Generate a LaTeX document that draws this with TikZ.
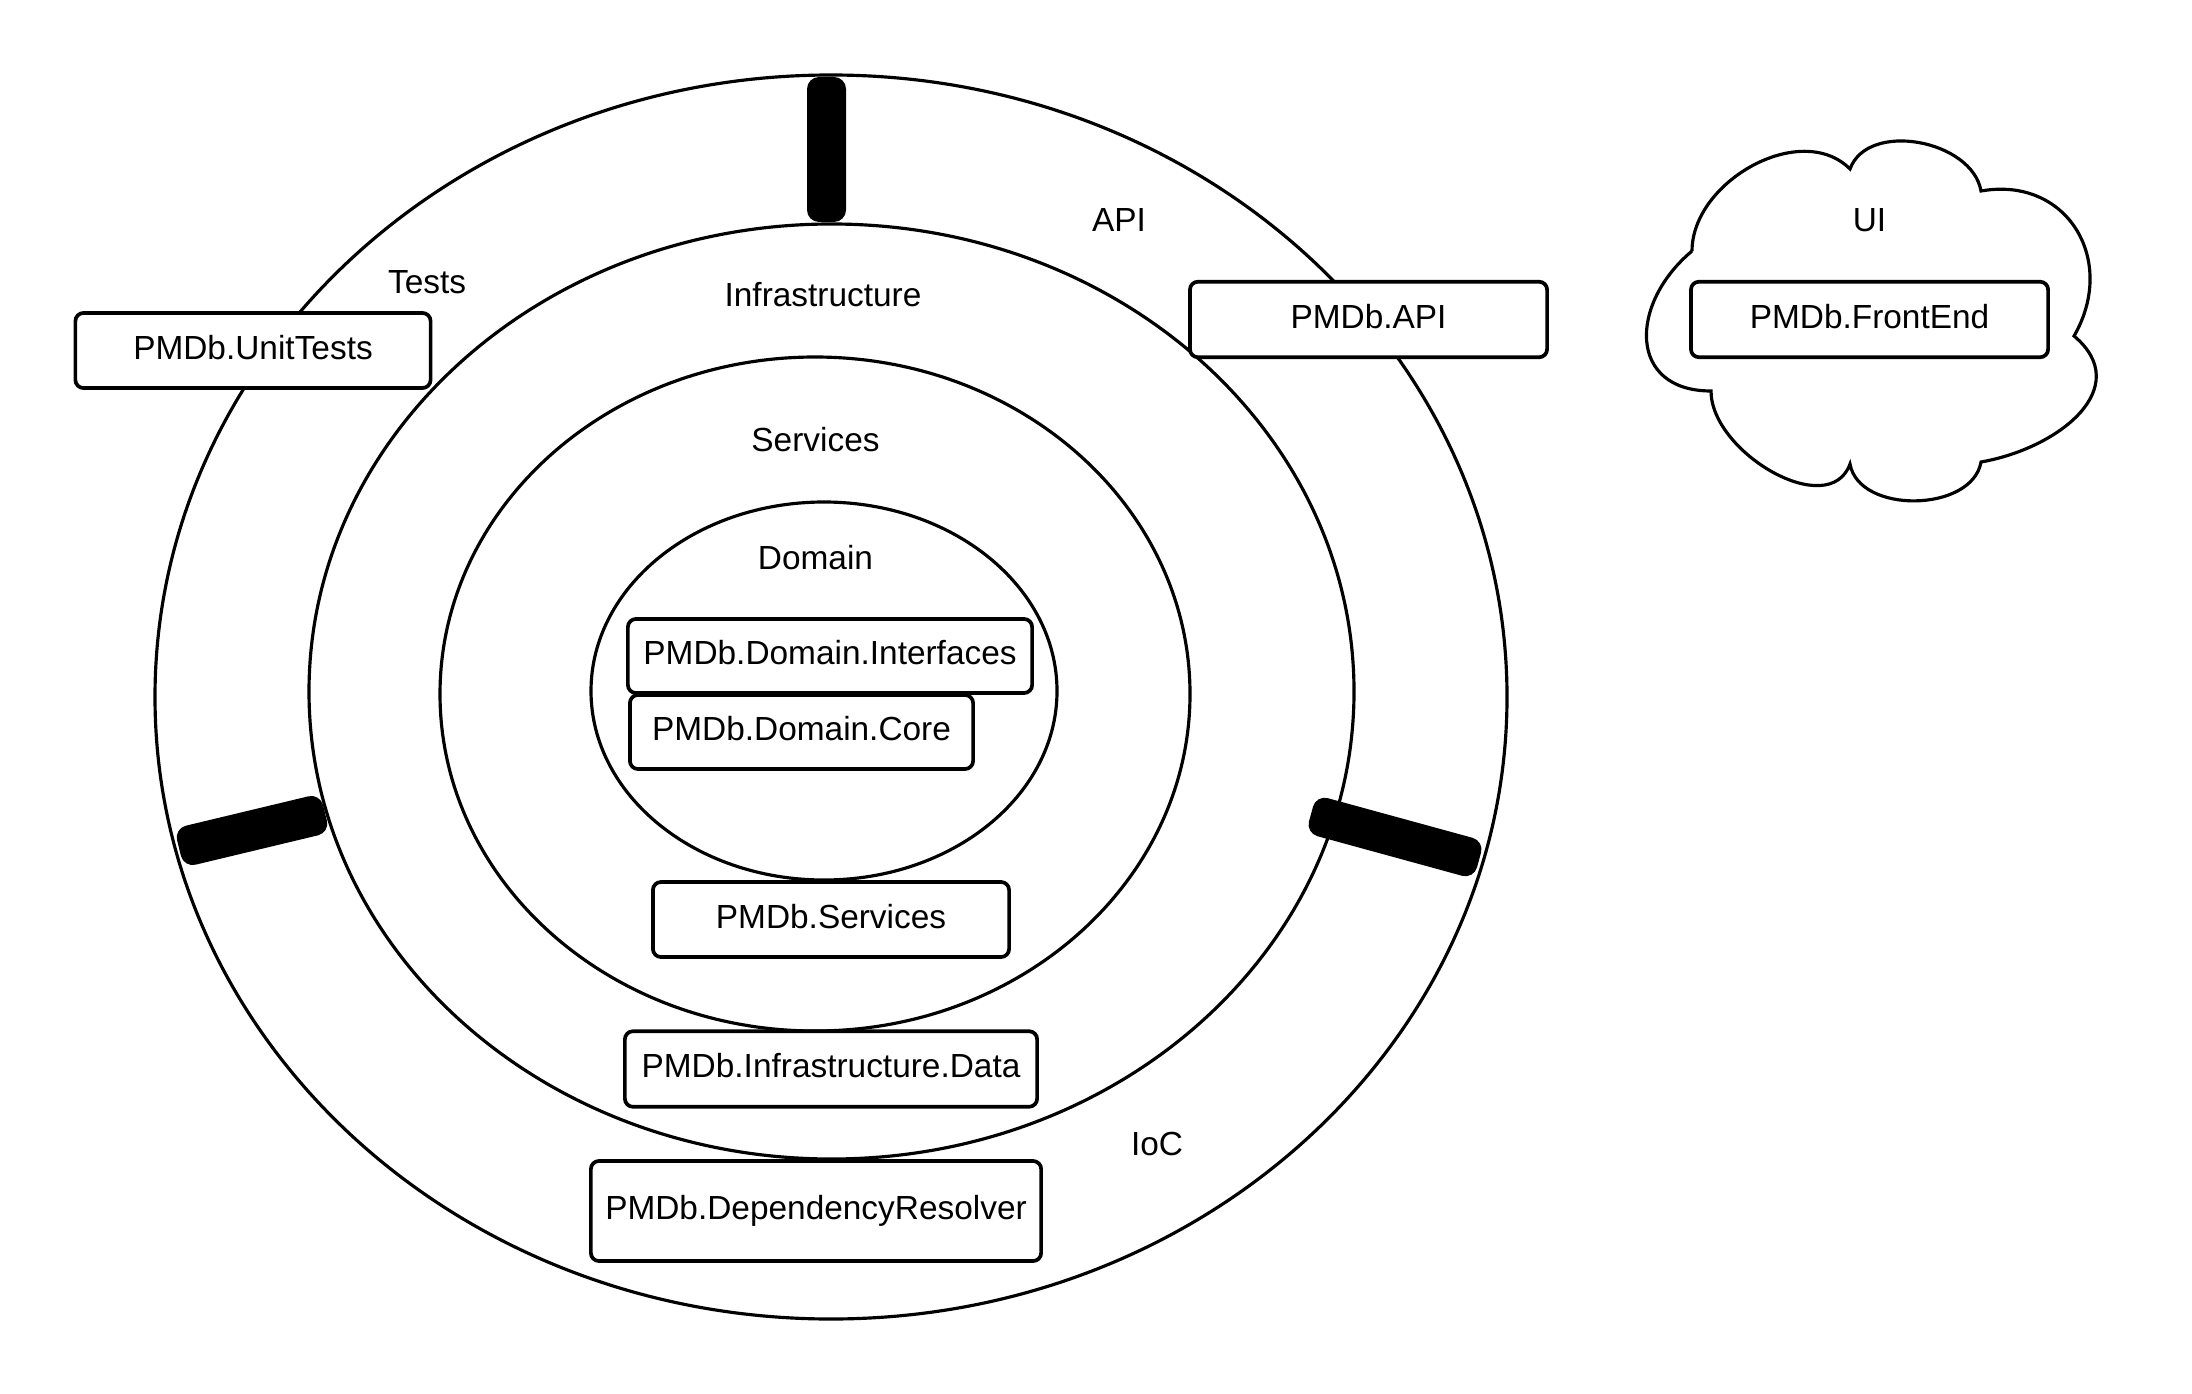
\documentclass[tikz,border=0pt]{standalone}
\usepackage{fontspec}
\setmainfont{Liberation Sans}
\tikzset{
module/.style={draw, line width=1.05pt, rounded corners=2.3pt, fill=white, inner sep=0pt,
  text height=0.75em, text depth=0.25em, font=\fontsize{9.5}{11}\selectfont},
layer/.style={font=\fontsize{9.5}{11}\selectfont},
ring/.style={line width=0.9pt},
divider/.style={fill=black, rounded corners=0.12cm}
}

\begin{document}
\begin{tikzpicture}[x=0.01cm, y=0.01cm]
\useasboundingbox (0,0) rectangle (2192,1393);
% onion rings
\draw[ring] (831,696) ellipse [x radius=676, y radius=622];
\draw[ring] (831.5,701.5) ellipse [x radius=522.5, y radius=467.5];
\draw[ring] (815,699) ellipse [x radius=375, y radius=337];
\draw[ring] (824,702) ellipse [x radius=233, y radius=189];
% dividers of the outer ring
\fill[divider] (807,1171) -- (846,1171) -- (846,1316) -- (807,1316) -- cycle;
\fill[divider] (174.2,564.5) -- (320.2,599.5) -- (329.8,560.5) -- (183.8,525.5) -- cycle;
\fill[divider] (1316.2,598) -- (1484.2,552) -- (1473.8,514) -- (1305.8,560) -- cycle;
% cloud
\draw[ring] (1692,1142) to[out=90,in=135] (1850,1224)
      to[out=70,in=100] (1981,1202)
      to[out=10,in=60,looseness=1.3] (2074,1057)
      to[out=-40,in=10,looseness=1.3] (1981,931)
      to[out=-100,in=-80] (1850,929)
      to[out=-110,in=-90] (1711,1002)
      to[out=180,in=220,looseness=1.5] (1692,1142);
% modules
\node[module, minimum width=3.55cm, minimum height=0.75cm] (unittests) at (253,1042.5) {PMDb.UnitTests};
\node[module, minimum width=3.57cm, minimum height=0.755cm] (api) at (1368.5,1073.5) {PMDb.API};
\node[module, minimum width=3.57cm, minimum height=0.755cm] (frontend) at (1869.5,1073.5) {PMDb.FrontEnd};
\node[module, minimum width=4.04cm, minimum height=0.74cm] (interfaces) at (830,737) {PMDb.Domain.Interfaces};
\node[module, minimum width=3.43cm, minimum height=0.74cm] (core) at (801.5,661) {PMDb.Domain.Core};
\node[module, minimum width=3.56cm, minimum height=0.75cm] (services) at (831,473.5) {PMDb.Services};
\node[module, minimum width=4.12cm, minimum height=0.755cm] (data) at (831,324) {PMDb.Infrastructure.Data};
\node[module, minimum width=4.50cm, minimum height=1.00cm] (resolver) at (816,182) {PMDb.DependencyResolver};
% layer names
\node[layer] (lbltests) at (427,1110.5) {Tests};
\node[layer] (lblapi) at (1119,1173) {API};
\node[layer] (lblinfra) at (823,1098) {Infrastructure};
\node[layer] (lblservices) at (815.5,953) {Services};
\node[layer] (lbldomain) at (815.5,835) {Domain};
\node[layer] (lblioc) at (1157,249) {IoC};
\node[layer] (lblui) at (1869.5,1173) {UI};
\end{tikzpicture}
\end{document}
